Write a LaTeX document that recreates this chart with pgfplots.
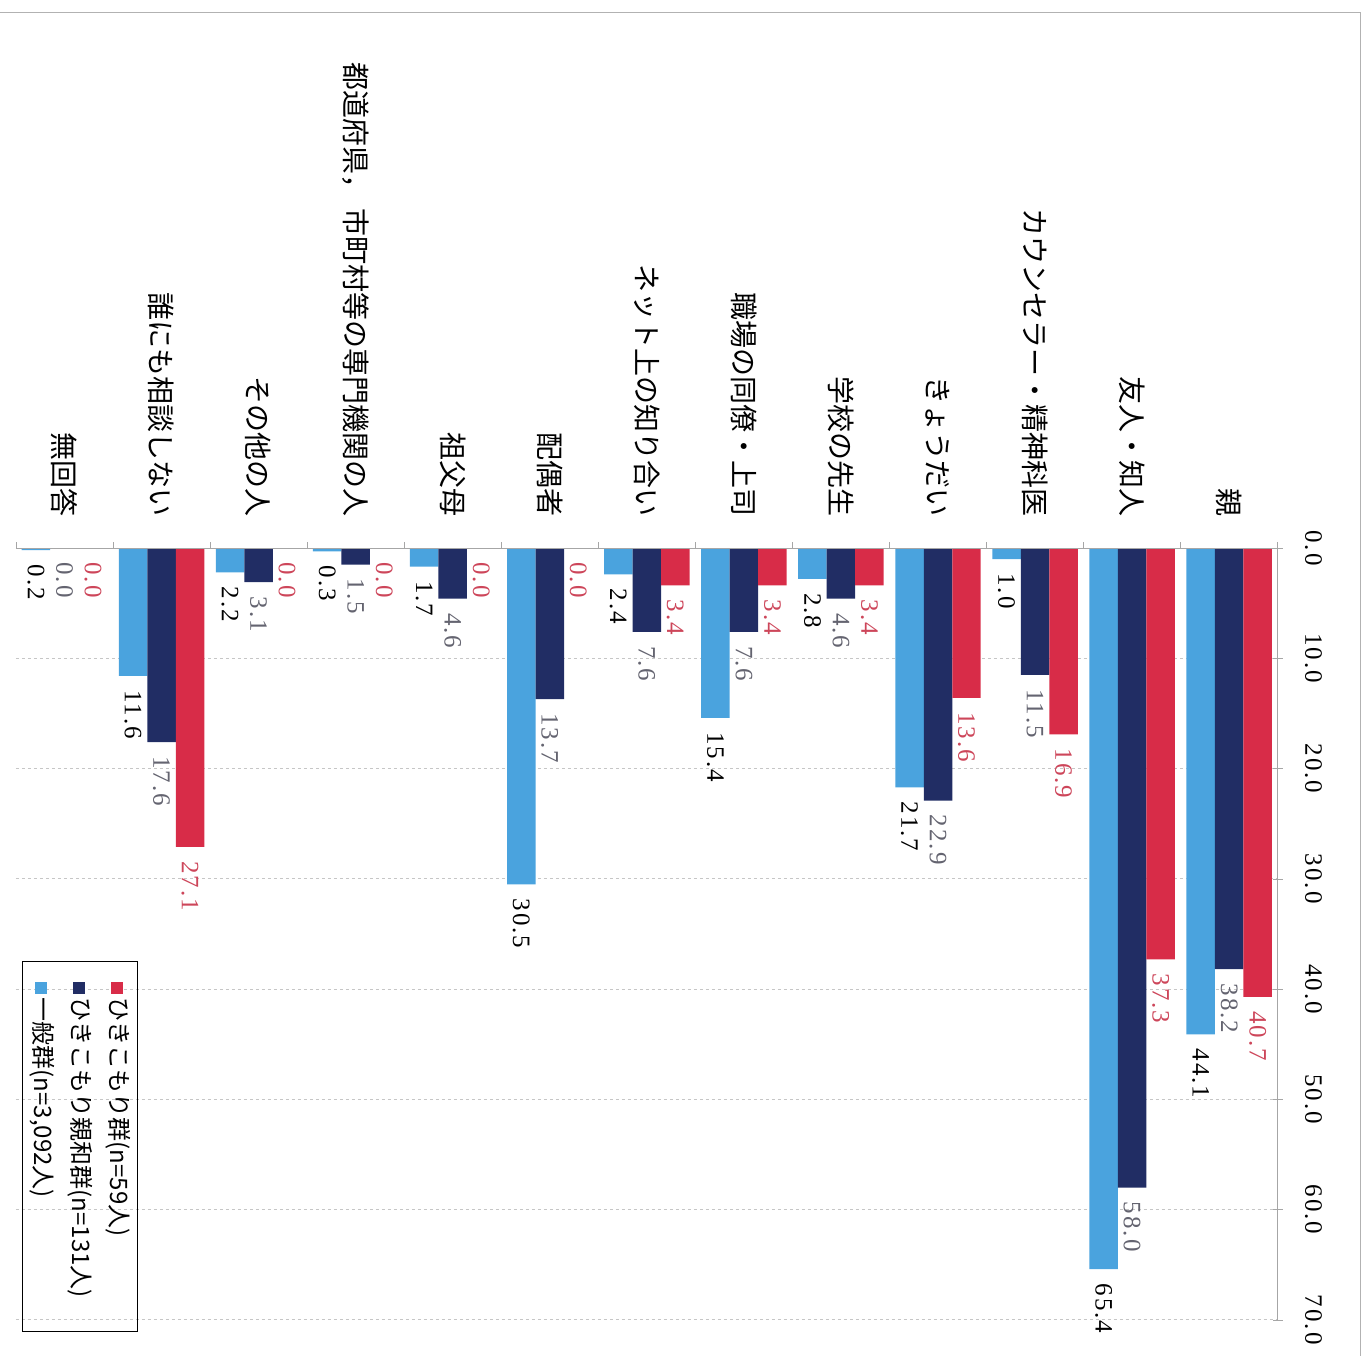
\documentclass[border=0pt]{standalone}
\usepackage{pgfplots}
\pgfplotsset{compat=1.18}
\usepackage{fontspec}
\setmainfont{Liberation Serif}
\newfontfamily\jp{Noto Sans CJK JP}
\newfontfamily\num[LetterSpace=8]{Liberation Serif}
\definecolor{hred}{RGB}{216,44,72}
\definecolor{hnavy}{RGB}{33,45,100}
\definecolor{hblue}{RGB}{74,163,222}
\definecolor{lred}{RGB}{205,70,90}
\definecolor{lnavy}{RGB}{100,100,112}
\begin{document}
\begin{tikzpicture}
\begin{axis}[
  scale only axis, width=631pt, height=386pt,
  xmin=-0.5, xmax=12.5, ymin=0, ymax=70, y dir=reverse,
  enlargelimits=false,
  ybar=0pt, bar width=14.25pt,
  axis line style={draw=none},
  xtick={0,...,12},
  xticklabels={無回答,誰にも相談しない,その他の人,都道府県，\ 市町村等の専門機関の人,祖父母,配偶者,ネット上の知り合い,職場の同僚・上司,学校の先生,きょうだい,カウンセラー・精神科医,友人・知人,親},
  xticklabel pos=upper,
  xticklabel style={rotate=-90, anchor=east, font=\jp\fontsize{14}{16}\selectfont, inner xsep=13pt, inner ysep=0pt},
  major x tick style={draw=none},
  ytick={0,10,...,70},
  yticklabels={0.0,10.0,20.0,30.0,40.0,50.0,60.0,70.0},
  ytick pos=right, yticklabel pos=right,
  yticklabel style={rotate=-90, anchor=south, font=\num\fontsize{12.5}{14}\selectfont, inner ysep=11pt, inner xsep=0pt},
  y tick style={gray!70}, major tick length=5pt, tick align=center,
  ymajorgrids, grid style={gray!45, dash pattern=on 1.5pt off 1.5pt},
  clip=false,
  nodes near coords={\pgfmathprintnumber[fixed,fixed zerofill,precision=1,assume math mode=true]{\pgfplotspointmeta}},
  every node near coord/.append style={rotate=-90, anchor=west, inner xsep=7pt, inner ysep=0pt, font=\num\fontsize{12.5}{14}\selectfont},
]
\addplot[fill=hblue, draw=none, every node near coord/.append style={text=black}] coordinates {
(0,0.2) (1,11.6) (2,2.2) (3,0.3) (4,1.7) (5,30.5) (6,2.4) (7,15.4) (8,2.8) (9,21.7) (10,1.0) (11,65.4) (12,44.1)};
\addplot[fill=hnavy, draw=none, every node near coord/.append style={text=lnavy}] coordinates {
(0,0.0) (1,17.6) (2,3.1) (3,1.5) (4,4.6) (5,13.7) (6,7.6) (7,7.6) (8,4.6) (9,22.9) (10,11.5) (11,58.0) (12,38.2)};
\addplot[fill=hred, draw=none, every node near coord/.append style={text=lred}] coordinates {
(0,0.0) (1,27.1) (2,0.0) (3,0.0) (4,0.0) (5,0.0) (6,3.4) (7,3.4) (8,3.4) (9,13.6) (10,16.9) (11,37.3) (12,40.7)};
% axis lines
\draw[gray!70] (axis cs:-0.5,0) -- (axis cs:12.5,0);
\draw[gray!70] (axis cs:12.5,0) -- (axis cs:12.5,70);
\pgfplotsinvokeforeach{-0.5,0.5,...,12.5}{\draw[gray!70] (axis cs:#1,0) -- ++(0pt,3pt);}
% outer frame
\draw[gray!60] (axis cs:-0.66,-48.6) -- (axis cs:13.35,-48.6) -- (axis cs:13.35,73.26);
% legend
\node[draw=black, line width=0.7pt, rotate=-90, minimum width=185pt, minimum height=57.5pt,
      inner xsep=10pt, inner ysep=3pt, text width=165pt, align=left,
      font=\jp\fontsize{12}{19}\selectfont] at (axis cs:0.159,54.3)
  {\textcolor{hred}{\rule[0.5pt]{6pt}{6pt}}\,ひきこもり群(n=59人)\\
   \textcolor{hnavy}{\rule[0.5pt]{6pt}{6pt}}\,ひきこもり親和群(n=131人)\\
   \textcolor{hblue}{\rule[0.5pt]{6pt}{6pt}}\,一般群(n=3,092人)};
% bounding box
\path (axis cs:-0.66,-49.7) rectangle (axis cs:13.42,73.26);
\end{axis}
\end{tikzpicture}
\end{document}
